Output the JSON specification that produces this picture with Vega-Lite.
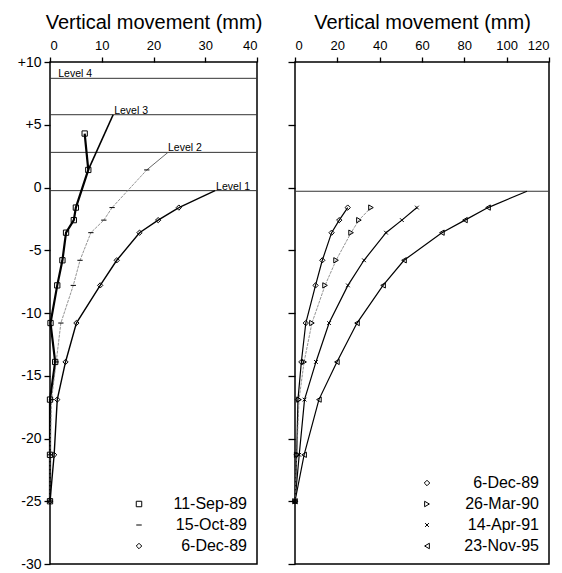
{
  "$schema": "https://vega.github.io/schema/vega-lite/v6.json",
  "background": "white",
  "padding": {"left": 16, "top": 11, "right": 5, "bottom": 5},
  "config": {
    "font": "Liberation Sans",
    "view": {"stroke": "black", "strokeWidth": 1.5},
    "axis": {"domain": false, "grid": false, "tickColor": "black", "tickWidth": 1.3, "labelColor": "black", "titleColor": "black", "labelFontSize": 13, "titleFontSize": 20, "titleFontWeight": "normal", "labelPadding": 3},
    "legend": {"orient": "bottom-right", "offset": 10, "labelFontSize": 16, "labelColor": "black", "labelAlign": "right", "symbolStrokeColor": "black", "symbolStrokeWidth": 1, "symbolSize": 30, "rowPadding": 5}
  },
  "datasets": {
    "levels": [
      {"panel": "L", "level": "Level 4", "y": 8.7, "x": 1.6},
      {"panel": "L", "level": "Level 3", "y": 5.8, "x": 12.4},
      {"panel": "L", "level": "Level 2", "y": 2.8, "x": 22.8},
      {"panel": "L", "level": "Level 1", "y": -0.25, "x": 32.1},
      {"panel": "R", "level": "Level 1", "y": -0.3, "x": 110}
    ],
    "obs": [
      {"panel": "L", "series": "11-Sep-89", "x": 6.7, "y": 4.3},
      {"panel": "L", "series": "11-Sep-89", "x": 7.4, "y": 1.4},
      {"panel": "L", "series": "11-Sep-89", "x": 5.0, "y": -1.6},
      {"panel": "L", "series": "11-Sep-89", "x": 4.6, "y": -2.6},
      {"panel": "L", "series": "11-Sep-89", "x": 3.1, "y": -3.6},
      {"panel": "L", "series": "11-Sep-89", "x": 2.4, "y": -5.8},
      {"panel": "L", "series": "11-Sep-89", "x": 1.4, "y": -7.8},
      {"panel": "L", "series": "11-Sep-89", "x": 0.1, "y": -10.8},
      {"panel": "L", "series": "11-Sep-89", "x": 1.0, "y": -13.9},
      {"panel": "L", "series": "11-Sep-89", "x": 0.0, "y": -16.9},
      {"panel": "L", "series": "11-Sep-89", "x": 0.0, "y": -21.3},
      {"panel": "L", "series": "11-Sep-89", "x": 0.0, "y": -25},
      {"panel": "L", "series": "15-Oct-89", "x": 18.7, "y": 1.4},
      {"panel": "L", "series": "15-Oct-89", "x": 12.0, "y": -1.6},
      {"panel": "L", "series": "15-Oct-89", "x": 10.4, "y": -2.6},
      {"panel": "L", "series": "15-Oct-89", "x": 7.9, "y": -3.6},
      {"panel": "L", "series": "15-Oct-89", "x": 5.8, "y": -5.8},
      {"panel": "L", "series": "15-Oct-89", "x": 4.5, "y": -7.8},
      {"panel": "L", "series": "15-Oct-89", "x": 2.1, "y": -10.8},
      {"panel": "L", "series": "15-Oct-89", "x": 1.2, "y": -13.9},
      {"panel": "L", "series": "15-Oct-89", "x": 0.3, "y": -16.9},
      {"panel": "L", "series": "15-Oct-89", "x": 0.0, "y": -21.3},
      {"panel": "L", "series": "15-Oct-89", "x": 0.0, "y": -25},
      {"panel": "L", "series": "6-Dec-89", "x": 24.9, "y": -1.6},
      {"panel": "L", "series": "6-Dec-89", "x": 20.9, "y": -2.6},
      {"panel": "L", "series": "6-Dec-89", "x": 17.3, "y": -3.6},
      {"panel": "L", "series": "6-Dec-89", "x": 12.9, "y": -5.8},
      {"panel": "L", "series": "6-Dec-89", "x": 9.7, "y": -7.8},
      {"panel": "L", "series": "6-Dec-89", "x": 5.1, "y": -10.8},
      {"panel": "L", "series": "6-Dec-89", "x": 3.0, "y": -13.9},
      {"panel": "L", "series": "6-Dec-89", "x": 1.4, "y": -16.9},
      {"panel": "L", "series": "6-Dec-89", "x": 0.8, "y": -21.3},
      {"panel": "L", "series": "6-Dec-89", "x": 0.0, "y": -25},
      {"panel": "R", "series": "6-Dec-89", "x": 24.9, "y": -1.6},
      {"panel": "R", "series": "6-Dec-89", "x": 20.9, "y": -2.6},
      {"panel": "R", "series": "6-Dec-89", "x": 17.3, "y": -3.6},
      {"panel": "R", "series": "6-Dec-89", "x": 12.9, "y": -5.8},
      {"panel": "R", "series": "6-Dec-89", "x": 9.7, "y": -7.8},
      {"panel": "R", "series": "6-Dec-89", "x": 5.1, "y": -10.8},
      {"panel": "R", "series": "6-Dec-89", "x": 3.0, "y": -13.9},
      {"panel": "R", "series": "6-Dec-89", "x": 1.4, "y": -16.9},
      {"panel": "R", "series": "6-Dec-89", "x": 0.8, "y": -21.3},
      {"panel": "R", "series": "6-Dec-89", "x": 0.0, "y": -25},
      {"panel": "R", "series": "26-Mar-90", "x": 35.9, "y": -1.6},
      {"panel": "R", "series": "26-Mar-90", "x": 30.2, "y": -2.6},
      {"panel": "R", "series": "26-Mar-90", "x": 26.5, "y": -3.6},
      {"panel": "R", "series": "26-Mar-90", "x": 19.4, "y": -5.8},
      {"panel": "R", "series": "26-Mar-90", "x": 14.2, "y": -7.8},
      {"panel": "R", "series": "26-Mar-90", "x": 8.0, "y": -10.8},
      {"panel": "R", "series": "26-Mar-90", "x": 4.3, "y": -13.9},
      {"panel": "R", "series": "26-Mar-90", "x": 1.9, "y": -16.9},
      {"panel": "R", "series": "26-Mar-90", "x": 0.8, "y": -21.3},
      {"panel": "R", "series": "26-Mar-90", "x": 0.0, "y": -25},
      {"panel": "R", "series": "14-Apr-91", "x": 57.6, "y": -1.6},
      {"panel": "R", "series": "14-Apr-91", "x": 50.5, "y": -2.6},
      {"panel": "R", "series": "14-Apr-91", "x": 43.0, "y": -3.6},
      {"panel": "R", "series": "14-Apr-91", "x": 32.6, "y": -5.8},
      {"panel": "R", "series": "14-Apr-91", "x": 25.0, "y": -7.8},
      {"panel": "R", "series": "14-Apr-91", "x": 16.1, "y": -10.8},
      {"panel": "R", "series": "14-Apr-91", "x": 9.9, "y": -13.9},
      {"panel": "R", "series": "14-Apr-91", "x": 4.5, "y": -16.9},
      {"panel": "R", "series": "14-Apr-91", "x": 2.0, "y": -21.3},
      {"panel": "R", "series": "14-Apr-91", "x": 0.0, "y": -25},
      {"panel": "R", "series": "23-Nov-95", "x": 91.2, "y": -1.6},
      {"panel": "R", "series": "23-Nov-95", "x": 80.3, "y": -2.6},
      {"panel": "R", "series": "23-Nov-95", "x": 69.4, "y": -3.6},
      {"panel": "R", "series": "23-Nov-95", "x": 51.5, "y": -5.8},
      {"panel": "R", "series": "23-Nov-95", "x": 41.6, "y": -7.8},
      {"panel": "R", "series": "23-Nov-95", "x": 29.3, "y": -10.8},
      {"panel": "R", "series": "23-Nov-95", "x": 19.8, "y": -13.9},
      {"panel": "R", "series": "23-Nov-95", "x": 11.3, "y": -16.9},
      {"panel": "R", "series": "23-Nov-95", "x": 4.3, "y": -21.3},
      {"panel": "R", "series": "23-Nov-95", "x": 0.0, "y": -25}
    ],
    "links": [
      {"panel": "L", "series": "11-Sep-89", "x": 7.4, "y": 1.4},
      {"panel": "L", "series": "11-Sep-89", "x": 12.2, "y": 5.8},
      {"panel": "L", "series": "15-Oct-89", "x": 18.7, "y": 1.4},
      {"panel": "L", "series": "15-Oct-89", "x": 22.8, "y": 2.8},
      {"panel": "L", "series": "6-Dec-89", "x": 24.9, "y": -1.6},
      {"panel": "L", "series": "6-Dec-89", "x": 31.9, "y": -0.25},
      {"panel": "R", "series": "23-Nov-95", "x": 91.2, "y": -1.6},
      {"panel": "R", "series": "23-Nov-95", "x": 109.6, "y": -0.3}
    ]
  },
  "spacing": 38,
  "bounds": "flush",
  "resolve": {
    "scale": {"x": "independent", "y": "independent", "shape": "independent"},
    "legend": {"shape": "independent"}
  },
  "hconcat": [
    {
      "width": 207,
      "height": 502,
      "encoding": {
        "x": {"field": "x", "type": "quantitative", "scale": {"domain": [0, 40], "nice": false},
          "axis": {"orient": "top", "values": [0, 10, 20, 30, 40], "title": "Vertical movement (mm)", "tickSize": 5, "labelPadding": 5, "titlePadding": 7}},
        "y": {"field": "y", "type": "quantitative", "scale": {"domain": [-30, 10], "nice": false},
          "axis": {"values": [-30, -25, -20, -15, -10, -5, 0, 5, 10], "title": null, "tickSize": 6, "labelFontSize": 14, "labelExpr": "datum.value > 0 ? '+' + datum.value : '' + datum.value"}}
      },
      "layer": [
        {
          "data": {"name": "levels"},
          "transform": [{"filter": "datum.panel == 'L'"}],
          "mark": {"type": "rule", "color": "#333", "strokeWidth": 1},
          "encoding": {"x": {"datum": 0}, "x2": {"datum": 40}}
        },
        {
          "data": {"name": "levels"},
          "transform": [{"filter": "datum.panel == 'L'"}],
          "mark": {"type": "text", "align": "left", "baseline": "alphabetic", "dy": -1, "fontSize": 10.5, "color": "black"},
          "encoding": {"text": {"field": "level"}}
        },
        {
          "data": {"name": "links"},
          "transform": [{"filter": "datum.panel == 'L' && datum.series == '11-Sep-89'"}],
          "mark": {"type": "line", "color": "black", "strokeWidth": 1.6},
          "encoding": {"order": {"field": "y"}}
        },
        {
          "data": {"name": "links"},
          "transform": [{"filter": "datum.panel == 'L' && datum.series == '15-Oct-89'"}],
          "mark": {"type": "line", "color": "#555", "strokeWidth": 0.9},
          "encoding": {"order": {"field": "y"}}
        },
        {
          "data": {"name": "links"},
          "transform": [{"filter": "datum.panel == 'L' && datum.series == '6-Dec-89'"}],
          "mark": {"type": "line", "color": "black", "strokeWidth": 1.3},
          "encoding": {"order": {"field": "y"}}
        },
        {
          "data": {"name": "obs"},
          "transform": [{"filter": "datum.panel == 'L' && datum.series == '11-Sep-89'"}],
          "mark": {"type": "line", "color": "black", "strokeWidth": 2.2},
          "encoding": {"order": {"field": "y"}}
        },
        {
          "data": {"name": "obs"},
          "transform": [{"filter": "datum.panel == 'L' && datum.series == '15-Oct-89'"}],
          "mark": {"type": "line", "color": "#777", "strokeWidth": 0.8, "strokeDash": [3, 1]},
          "encoding": {"order": {"field": "y"}}
        },
        {
          "data": {"name": "obs"},
          "transform": [{"filter": "datum.panel == 'L' && datum.series == '6-Dec-89'"}],
          "mark": {"type": "line", "color": "black", "strokeWidth": 1.4},
          "encoding": {"order": {"field": "y"}}
        },
        {
          "data": {"name": "obs"},
          "transform": [{"filter": "datum.panel == 'L'"}],
          "mark": {"type": "point", "filled": false, "stroke": "black", "strokeWidth": 1, "size": 28, "opacity": 1},
          "encoding": {
            "shape": {"field": "series", "type": "nominal", "title": null, "legend": {"labelOffset": 100},
              "scale": {"domain": ["11-Sep-89", "15-Oct-89", "6-Dec-89"], "range": ["square", "stroke", "diamond"]}}
          }
        }
      ]
    },
    {
      "width": 254,
      "height": 502,
      "encoding": {
        "x": {"field": "x", "type": "quantitative", "scale": {"domain": [0, 120], "nice": false},
          "axis": {"orient": "top", "values": [0, 20, 40, 60, 80, 100, 120], "title": "Vertical movement (mm)", "tickSize": 5, "labelPadding": 5, "titlePadding": 7}},
        "y": {"field": "y", "type": "quantitative", "scale": {"domain": [-30, 10], "nice": false},
          "axis": {"values": [-30, -25, -20, -15, -10, -5, 0, 5, 10], "title": null, "tickSize": 7, "labels": false}}
      },
      "layer": [
        {
          "data": {"name": "levels"},
          "transform": [{"filter": "datum.panel == 'R'"}],
          "mark": {"type": "rule", "color": "#333", "strokeWidth": 1},
          "encoding": {"x": {"datum": 0}, "x2": {"datum": 120}}
        },
        {
          "data": {"name": "links"},
          "transform": [{"filter": "datum.panel == 'R'"}],
          "mark": {"type": "line", "color": "black", "strokeWidth": 1.2},
          "encoding": {"order": {"field": "y"}}
        },
        {
          "data": {"name": "obs"},
          "transform": [{"filter": "datum.panel == 'R' && datum.series != '26-Mar-90'"}],
          "mark": {"type": "line", "color": "black", "strokeWidth": 1.2},
          "encoding": {"order": {"field": "y"}, "detail": {"field": "series"}}
        },
        {
          "data": {"name": "obs"},
          "transform": [{"filter": "datum.panel == 'R' && datum.series == '26-Mar-90'"}],
          "mark": {"type": "line", "color": "#777", "strokeWidth": 0.8, "strokeDash": [3, 1]},
          "encoding": {"order": {"field": "y"}}
        },
        {
          "data": {"name": "obs"},
          "transform": [{"filter": "datum.panel == 'R'"}],
          "mark": {"type": "point", "filled": false, "stroke": "black", "strokeWidth": 1, "size": 28, "opacity": 1},
          "encoding": {
            "shape": {"field": "series", "type": "nominal", "title": null, "legend": {"labelOffset": 104},
              "scale": {"domain": ["6-Dec-89", "26-Mar-90", "14-Apr-91", "23-Nov-95"], "range": ["diamond", "triangle-right", "M-0.7,-0.7L0.7,0.7M-0.7,0.7L0.7,-0.7", "triangle-left"]}}
          }
        }
      ]
    }
  ]
}
